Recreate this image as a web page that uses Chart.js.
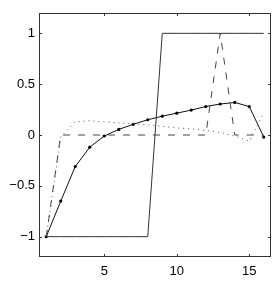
<!DOCTYPE html>
<html>
<head>
<meta charset="utf-8">
<script src="https://cdn.jsdelivr.net/npm/chart.js@4"></script>
<style>
  html, body { margin: 0; padding: 0; background: #fff; }
  #wrap { width: 278px; height: 281px; }
</style>
</head>
<body>
<div id="wrap"><canvas id="chart" width="278" height="281"></canvas></div>
<script>
// values
var xs = [1, 2, 3, 4, 5, 6, 7, 8, 9, 10, 11, 12, 13, 14, 15, 16];
var stepVals = [-1, -1, -1, -1, -1, -1, -1, -1, 1, 1, 1, 1, 1, 1, 1, 1];
var spikeVals = [-1, 0, 0, 0, 0, 0, 0, 0, 0, 0, 0, 0, 1, 0, 0, 0];
var dottedVals = [-1, -0.02, 0.13, 0.14, 0.13, 0.12, 0.11, 0.1, 0.085, 0.07, 0.06, 0.045, 0.025, -0.01, -0.06, 0.22];
var markerVals = [-1, -0.65, -0.31, -0.12, -0.01, 0.055, 0.105, 0.15, 0.185, 0.215, 0.245, 0.28, 0.305, 0.32, 0.28, -0.02];
var xTicks = [5, 10, 15];
var yTicks = [-1, -0.5, 0, 0.5, 1];

function pts(vals) {
  return xs.map(function (x, i) { return { x: x, y: vals[i] }; });
}

function fmt(v) {
  return v < 0 ? '\u2212' + Math.abs(v) : String(v);
}

// box round the plot with inward ticks, like the original
var boxPlugin = {
  id: 'box',
  afterDraw: function (chart) {
    var ctx = chart.ctx;
    var a = chart.chartArea;
    var sx = chart.scales.x, sy = chart.scales.y;
    var t = 3;
    ctx.save();
    ctx.strokeStyle = '#333';
    ctx.lineWidth = 1;
    ctx.strokeRect(a.left + 0.5, a.top + 0.5, a.right - a.left - 1, a.bottom - a.top - 1);
    ctx.beginPath();
    xTicks.forEach(function (v) {
      var px = Math.round(sx.getPixelForValue(v)) + 0.5;
      ctx.moveTo(px, a.bottom);
      ctx.lineTo(px, a.bottom - t);
      ctx.moveTo(px, a.top);
      ctx.lineTo(px, a.top + t);
    });
    yTicks.forEach(function (v) {
      var py = Math.round(sy.getPixelForValue(v)) + 0.5;
      ctx.moveTo(a.left, py);
      ctx.lineTo(a.left + t, py);
      ctx.moveTo(a.right, py);
      ctx.lineTo(a.right - t, py);
    });
    ctx.stroke();
    ctx.restore();
  }
};

new Chart(document.getElementById('chart').getContext('2d'), {
  type: 'line',
  data: {
    datasets: [
      {
        data: pts(stepVals),
        borderColor: '#333',
        borderWidth: 1,
        pointRadius: 0
      },
      {
        data: pts(spikeVals),
        borderColor: '#444',
        borderWidth: 1,
        borderDash: [7, 8],
        pointRadius: 0
      },
      {
        data: pts(dottedVals),
        borderColor: '#555',
        borderWidth: 1,
        borderDash: [1, 4],
        pointRadius: 0
      },
      {
        data: pts(markerVals),
        borderColor: '#111',
        borderWidth: 1,
        pointRadius: 1.6,
        pointBackgroundColor: '#000',
        pointBorderColor: '#000',
        pointBorderWidth: 0
      }
    ]
  },
  options: {
    responsive: false,
    animation: false,
    events: [],
    layout: { padding: { top: 13, right: 7, left: 0, bottom: 0 } },
    plugins: {
      legend: { display: false },
      tooltip: { enabled: false }
    },
    elements: { line: { tension: 0 } },
    scales: {
      x: {
        type: 'linear',
        min: 0.5,
        max: 16.5,
        grid: { display: false, drawTicks: false },
        border: { display: false },
        afterBuildTicks: function (scale) {
          scale.ticks = xTicks.map(function (v) { return { value: v }; });
        },
        afterFit: function (scale) { scale.height = 24; },
        ticks: {
          color: '#000',
          padding: 7,
          maxRotation: 0,
          font: { family: 'Liberation Sans', size: 13 }
        }
      },
      y: {
        min: -1.2,
        max: 1.2,
        grid: { display: false, drawTicks: false },
        border: { display: false },
        afterBuildTicks: function (scale) {
          scale.ticks = yTicks.map(function (v) { return { value: v }; });
        },
        afterFit: function (scale) { scale.width = 39; },
        ticks: {
          color: '#000',
          padding: 4,
          font: { family: 'Liberation Sans', size: 13 },
          callback: function (v) { return fmt(v); }
        }
      }
    }
  },
  plugins: [boxPlugin]
});
</script>
</body>
</html>
